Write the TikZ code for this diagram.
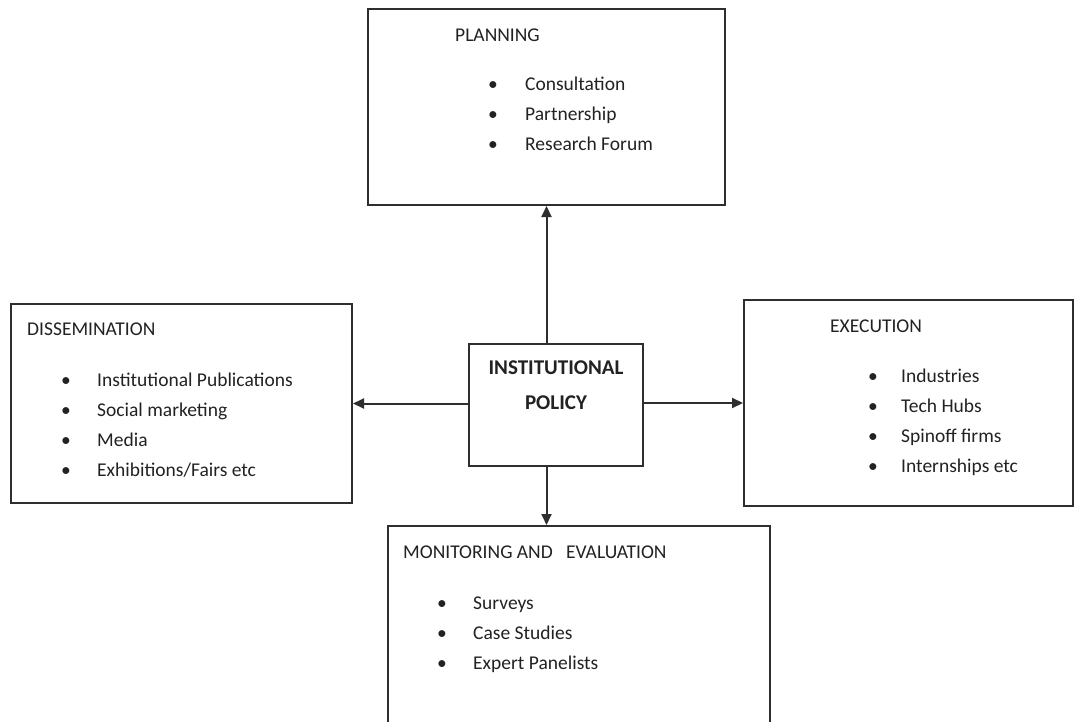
\documentclass[tikz,border=0pt]{standalone}
\usepackage{fontspec}
\setmainfont{Carlito}
\usetikzlibrary{arrows.meta,calc}
\definecolor{ink}{HTML}{222222}
\definecolor{frame}{HTML}{2E2E2E}
\tikzset{
  box/.style={draw=frame, line width=2pt, rectangle, inner sep=0pt},
  lbl/.style={anchor=mid west, inner sep=0pt, text=ink, font=\fontsize{19.5}{23}\selectfont},
  bul/.style={anchor=mid, inner sep=0pt, text=ink, font=\fontsize{19.5}{23}\selectfont},
  head/.style={anchor=mid, inner sep=0pt, text=ink, font=\fontsize{21}{25}\selectfont\bfseries},
  link/.style={draw=frame, line width=2pt, -{Triangle[length=11pt,width=10pt]}}
}
\newcommand{\bulletlist}[4]{% x of bullet, x of text, first y, items
  \foreach \t [count=\i from 0] in {#4} {
    \node[bul] at (#1, #3+30*\i) {\textbullet};
    \node[lbl] at (#2, #3+30*\i) {\t};
  }
}
\begin{document}
\begin{tikzpicture}[x=1pt,y=-1pt]
\useasboundingbox (0,0) rectangle (1075,722);
\clip (0,0) rectangle (1075,722);
\fill[white] (0,0) rectangle (1075,722);

% boxes
\node[box, minimum width=357pt, minimum height=196pt] (planning) at (546.5,107) {};
\node[box, minimum width=174pt, minimum height=122pt] (policy) at (556,405) {};
\node[box, minimum width=341pt, minimum height=199pt] (dissemination) at (181.5,403.5) {};
\node[box, minimum width=329pt, minimum height=206pt] (execution) at (908.5,403) {};
\node[box, minimum width=382pt, minimum height=260pt] (monitoring) at (579,656) {};

% central box text
\node[head] (policyA) at (556,372) {INSTITUTIONAL};
\node[head] (policyB) at (556,407) {POLICY};

% planning
\node[lbl] (planningT) at (455,39) {PLANNING};
\bulletlist{493}{525}{88}{Consultation,Partnership,Research Forum}

% dissemination
\node[lbl] (disseminationT) at (27,333) {DISSEMINATION};
\bulletlist{66}{97}{384}{Institutional Publications,Social marketing,Media,Exhibitions/Fairs etc}

% execution
\node[lbl] (executionT) at (830,330) {EXECUTION};
\bulletlist{873}{901}{380}{Industries,Tech Hubs,Spinoff firms,Internships etc}

% monitoring and evaluation
\node[lbl] (monitoringT) at (403,556) {MONITORING AND\ \ \ EVALUATION};
\bulletlist{442}{473}{607}{Surveys,Case Studies,Expert Panelists}

% connectors
\draw[link] (planning.south |- policy.north) -- (planning.south);
\draw[link] (planning.south |- policy.south) -- (planning.south |- monitoring.north);
\draw[link] (policy.west |- dissemination.east) -- (dissemination.east);
\draw[link] (policy.east |- execution.west) -- (execution.west);
\end{tikzpicture}
\end{document}
